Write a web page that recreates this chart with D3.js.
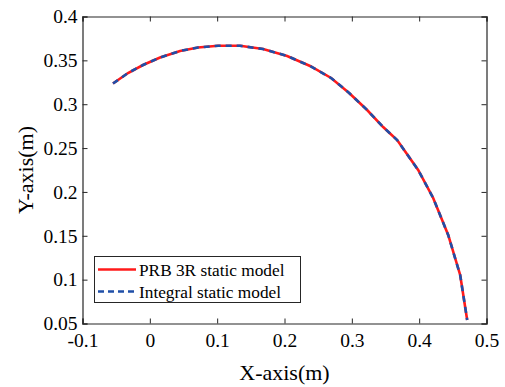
<!DOCTYPE html>
<html><head><meta charset="utf-8">
<script src="https://cdn.jsdelivr.net/npm/d3@7"></script>
<style>body{margin:0;background:#fff}svg{display:block}
svg text{font-family:"Liberation Serif","Times New Roman",Times,"Nimbus Roman","DejaVu Serif",serif !important;}
</style>
</head><body>
<svg id="c" width="505" height="387"></svg>
<script>
const xVals = [-0.0547,-0.0324,-0.0101,0.0152,0.0449,0.0716,0.1013,0.134,0.1682,0.2039,0.238,0.2692,0.296,0.3227,0.3465,0.3673,0.3985,0.4208,0.4431,0.4609,0.4713];
const yVals = [0.3236,0.3356,0.3447,0.3533,0.3607,0.3647,0.3667,0.3666,0.3629,0.355,0.3436,0.3299,0.3128,0.2934,0.274,0.2592,0.225,0.1931,0.1509,0.1053,0.054];
const xTicks = [-0.1,0,0.1,0.2,0.3,0.4,0.5];
const yTicks = [0.05,0.1,0.15,0.2,0.25,0.3,0.35,0.4];
const seriesNames = ["PRB 3R static model","Integral static model"];

const svg = d3.select("#c");
const L=82.5,R=486.5,T=16.5,B=323.5;
const x = d3.scaleLinear().domain([-0.1,0.5]).range([L,R]);
const y = d3.scaleLinear().domain([0.05,0.4]).range([B,T]);
const axisColor = "#262626";
const pts = xVals.map((v,i)=>[v,yVals[i]]);
const line = d3.line().x(d=>x(d[0])).y(d=>y(d[1]));

const fmt = d => String(+d.toFixed(2));

// axes
const gx = svg.append("g").attr("transform",`translate(0,${B})`)
  .call(d3.axisBottom(x).tickValues(xTicks).tickSize(-5).tickPadding(10).tickFormat(fmt));
const gy = svg.append("g").attr("transform",`translate(${L},0)`)
  .call(d3.axisLeft(y).tickValues(yTicks).tickSize(-5).tickPadding(5).tickFormat(fmt));
const gxt = svg.append("g").attr("transform",`translate(0,${T})`)
  .call(d3.axisTop(x).tickValues(xTicks).tickSize(-5).tickFormat(""));
const gyr = svg.append("g").attr("transform",`translate(${R},0)`)
  .call(d3.axisRight(y).tickValues(yTicks).tickSize(-5).tickFormat(""));
[gx,gy,gxt,gyr].forEach(g=>{
  g.select(".domain").attr("stroke",axisColor).attr("stroke-width",1.2);
  g.selectAll(".tick line").attr("stroke",axisColor).attr("stroke-width",1);
  g.selectAll("text").attr("font-size",19.5).attr("fill","#000");
});

// curves
svg.append("path").datum(pts).attr("d",line).attr("fill","none")
  .attr("stroke","#ff1a1a").attr("stroke-width",2.6);
svg.append("path").datum(pts).attr("d",line).attr("fill","none")
  .attr("stroke","#1f4fa8").attr("stroke-width",2.6).attr("stroke-dasharray","6,5");

// axis labels
svg.append("text").attr("x",(L+R)/2).attr("y",380).attr("text-anchor","middle")
  .attr("font-size",22).text("X-axis(m)");
svg.append("text").attr("transform",`translate(33,${(T+B)/2}) rotate(-90)`).attr("text-anchor","middle")
  .attr("font-size",22).text("Y-axis(m)");

// legend
const lg = svg.append("g");
lg.append("rect").attr("x",94.5).attr("y",256.5).attr("width",206).attr("height",46)
  .attr("fill","#fff").attr("stroke",axisColor).attr("stroke-width",1);
const styles = [{c:"#ff1a1a",d:null},{c:"#1f4fa8",d:"6,4"}];
seriesNames.forEach((n,i)=>{
  const yy = 269.5 + i*22;
  lg.append("line").attr("x1",98).attr("x2",136).attr("y1",yy).attr("y2",yy)
    .attr("stroke",styles[i].c).attr("stroke-width",2.6).attr("stroke-dasharray",styles[i].d);
  lg.append("text").attr("x",139).attr("y",yy+6).attr("font-size",17.3).text(n);
});
</script>
</body></html>
